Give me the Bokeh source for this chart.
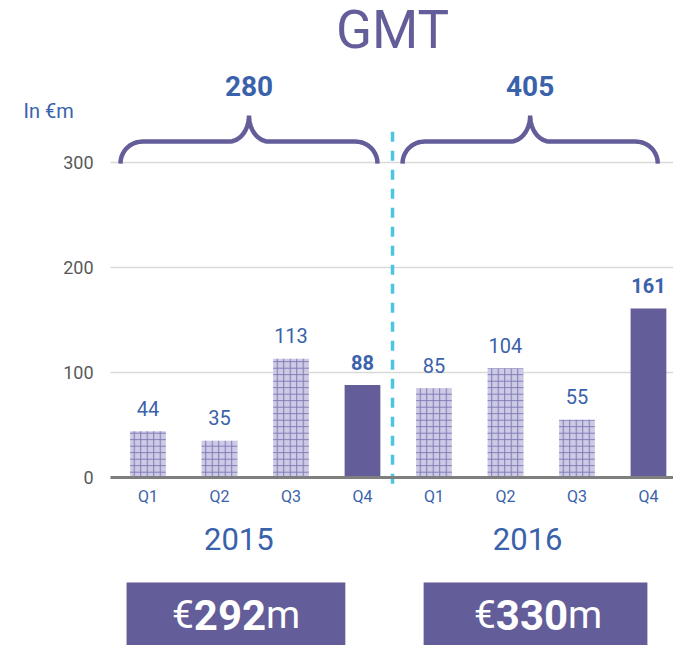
import numpy as np
from bokeh.plotting import figure
from bokeh.models import Range1d, FixedTicker
from bokeh.core.properties import value
from bokeh.embed import file_html
from bokeh.resources import INLINE

# ---------------- data ----------------
title_text = "GMT"
unit_label = "In €m"
quarters = ["Q1", "Q2", "Q3", "Q4"]
years = ["2015", "2016"]
values_2015 = [44, 35, 113, 88]
values_2016 = [85, 104, 55, 161]
year_totals = [280, 405]
full_year = [292, 330]
y_ticks = [0, 100, 200, 300]

# ---------------- style ----------------
PURPLE = "#635d99"
BLUE = "#3a62aa"
CYAN = "#4cc5e0"
GRAY_AX = "#7f7f7f"
GRID = "#d9d9d9"
FONT = "Roboto"

W, H = 673, 645
XR = (-2.063, 7.35)
YR = (-160.0, 454.3)
px_x = W / (XR[1] - XR[0])   # pixels per x unit
px_y = H / (YR[1] - YR[0])   # pixels per y unit

p = figure(width=W, height=H, output_backend="svg", toolbar_location=None,
           x_range=Range1d(*XR), y_range=Range1d(*YR), min_border=0,
           outline_line_color=None, background_fill_color="white")

axis_left = -0.524

# axes
p.xaxis.fixed_location = 0
p.xaxis.ticker = FixedTicker(ticks=list(range(8)))
p.xaxis.major_label_overrides = {i: quarters[i % 4] for i in range(8)}
p.xaxis.axis_line_color = GRAY_AX
p.xaxis.axis_line_width = 3
p.xaxis.major_tick_line_color = None
p.xaxis.minor_tick_line_color = None
p.xaxis.major_tick_out = 0
p.xaxis.major_label_text_color = BLUE
p.xaxis.major_label_text_font = FONT
p.xaxis.major_label_text_font_size = "16px"
p.xaxis.major_label_standoff = 9
p.xaxis.bounds = (axis_left, XR[1])

p.yaxis.fixed_location = axis_left
p.yaxis.ticker = FixedTicker(ticks=y_ticks)
p.yaxis.axis_line_color = None
p.yaxis.major_tick_line_color = None
p.yaxis.minor_tick_line_color = None
p.yaxis.major_tick_out = 0
p.yaxis.major_label_text_color = "#595959"
p.yaxis.major_label_text_font = FONT
p.yaxis.major_label_text_font_size = "18px"
p.yaxis.major_label_standoff = 17

p.xgrid.visible = False
p.ygrid.ticker = FixedTicker(ticks=y_ticks[1:])
p.ygrid.grid_line_color = GRID
p.ygrid.grid_line_width = 1.5
p.ygrid.cross_bounds = (axis_left, XR[1])

# bars
vals = values_2015 + values_2016
xs = list(range(len(vals)))
hx = [x for x, q in zip(xs, quarters * 2) if q != "Q4"]
hv = [v for v, q in zip(vals, quarters * 2) if q != "Q4"]
sx = [x for x, q in zip(xs, quarters * 2) if q == "Q4"]
sv = [v for v, q in zip(vals, quarters * 2) if q == "Q4"]

p.vbar(x=hx, top=hv, bottom=0, width=0.5, fill_color="#cdcae5", line_color=None,
       hatch_pattern="+", hatch_color="#7e79b5", hatch_scale=6.5, hatch_weight=1)
p.vbar(x=sx, top=sv, bottom=0, width=0.5, fill_color=PURPLE, line_color=None)

p.text(x=hx, y=hv, text=[str(v) for v in hv], text_align="center",
       text_baseline="alphabetic", y_offset=-23, text_color=BLUE,
       text_font=value(FONT), text_font_size="20px")
p.text(x=sx, y=sv, text=[str(v) for v in sv], text_align="center",
       text_baseline="alphabetic", y_offset=-23, text_color=BLUE,
       text_font=value(FONT), text_font_size="20px", text_font_style="bold")

# braces
def brace(x0, x1, yb, r=22.0, tip_w=20.0, tip_h=26.0):
    cx = (x0 + x1) / 2.0
    half = (x1 - x0) / 2.0 * px_x
    t1 = np.linspace(np.pi, np.pi / 2, 20)
    lx = -half + r + r * np.cos(t1)
    ly = r * np.sin(t1)
    t2 = np.linspace(-np.pi / 2, 0, 20)
    tx = -tip_w + tip_w * np.cos(t2)
    ty = r + tip_h + tip_h * np.sin(t2)
    left_x = np.concatenate([lx, tx])
    left_y = np.concatenate([ly, ty])
    px = np.concatenate([left_x, -left_x[::-1]])
    py = np.concatenate([left_y, left_y[::-1]])
    return cx + px / px_x, yb + py / px_y

brace_spans = [(-0.385, 3.21), (3.56, 7.13)]
for (a, b) in brace_spans:
    bx, by = brace(a, b, 299)
    p.line(bx, by, line_color=PURPLE, line_width=4.5)

brace_centers = [(a + b) / 2 for a, b in brace_spans]
p.text(x=brace_centers, y=[373, 373], text=[str(t) for t in year_totals],
       text_align="center", text_baseline="middle", text_color=BLUE,
       text_font=value(FONT), text_font_size="28px", text_font_style="bold")

# divider
sep_x = 3.42
p.segment(x0=[sep_x], y0=[-6], x1=[sep_x], y1=[330], line_color=CYAN,
          line_width=3.5, line_dash="10 9")

# title and unit label
p.text(x=[sep_x], y=[426], text=[title_text], text_align="center",
       text_baseline="middle", text_color=PURPLE, text_font=value(FONT),
       text_font_size="53px")
p.text(x=[-1.741], y=[349.5], text=[unit_label], text_align="left",
       text_baseline="middle", text_color=BLUE, text_font=value(FONT),
       text_font_size="20px")

# years
year_x = [1.27, 5.31]
p.text(x=year_x, y=[-59, -59], text=years, text_align="center",
       text_baseline="middle", text_color=BLUE, text_font=value(FONT),
       text_font_size="31px")

# full-year boxes
box_x = [1.23, 5.42]
box_w = [3.06, 3.13]
p.rect(x=box_x, y=[-132, -132], width=box_w, height=[64, 64],
       fill_color=PURPLE, line_color=None)
num_x = [1.147, 5.371]
mid_y = [-130.5, -130.5]
half_num = 35
p.text(x=num_x, y=mid_y, text=[str(v) for v in full_year], text_align="center",
       text_baseline="middle", text_color="white", text_font=value(FONT),
       text_font_size="42px", text_font_style="bold")
p.text(x=num_x, y=mid_y, text=["€", "€"], text_align="right", x_offset=-half_num - 1,
       text_baseline="middle", text_color="white", text_font=value(FONT),
       text_font_size="39px")
p.text(x=num_x, y=mid_y, text=["m", "m"], text_align="left", x_offset=half_num + 1,
       text_baseline="middle", text_color="white", text_font=value(FONT),
       text_font_size="39px")

open("out.html", "w").write(file_html(p, INLINE))
